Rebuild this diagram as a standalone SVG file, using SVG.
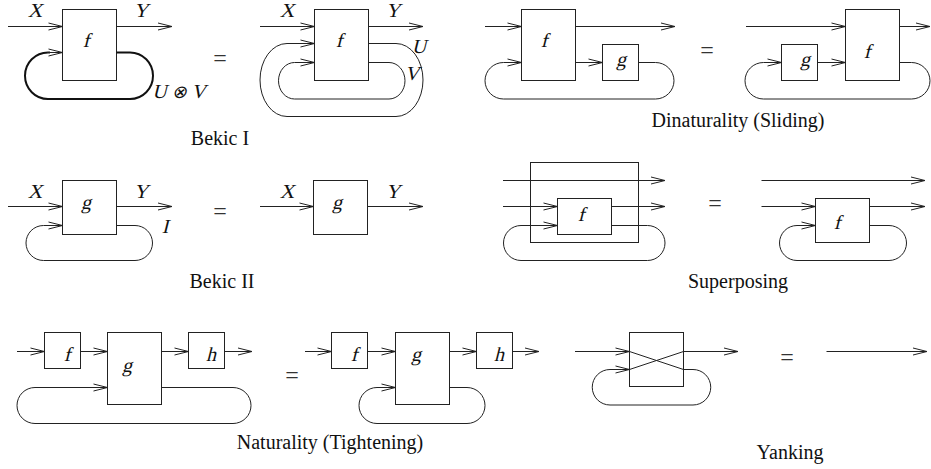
<svg xmlns="http://www.w3.org/2000/svg" width="931" height="469" viewBox="0 0 931 469">
<style>
.b{fill:none;stroke:#222;stroke-width:1}
.w{fill:none;stroke:#222;stroke-width:1}
.thick{fill:none;stroke:#111;stroke-width:2}
.m{font-family:"Liberation Serif","DejaVu Serif",serif;font-size:20px;fill:#111;text-anchor:middle}
.c{font-family:"Liberation Serif",serif;font-size:20px;fill:#111;text-anchor:middle}
.eq{font-family:"Liberation Serif",serif;font-size:24px;fill:#333;text-anchor:middle}
.op{font-family:"DejaVu Sans",sans-serif;font-size:18px}
</style>
<defs>
<marker id="a" markerWidth="16" markerHeight="10" refX="15" refY="5" orient="auto" markerUnits="userSpaceOnUse">
<path d="M1,1.5 L15,5 L1,8.5" fill="none" stroke="#222" stroke-width="1"/>
</marker>
</defs>
<rect width="931" height="469" fill="#fff"/>

<!-- Nodes -->
<g id="bekic1-left-f"><rect class="b" x="62.5" y="9.5" width="54" height="71"/><text class="m" transform="translate(86,47) skewX(-14)">f</text></g>
<g id="bekic1-right-f"><rect class="b" x="314.5" y="9.5" width="54" height="71"/><text class="m" transform="translate(339,47) skewX(-14)">f</text></g>
<g id="slide-left-f"><rect class="b" x="521.5" y="9.5" width="54" height="71"/><text class="m" transform="translate(544,47) skewX(-14)">f</text></g>
<g id="slide-left-g"><rect class="b" x="602.5" y="44.5" width="36" height="36"/><text class="m" transform="translate(621,66) skewX(-14)">g</text></g>
<g id="slide-right-g"><rect class="b" x="781.5" y="44.5" width="36" height="36"/><text class="m" transform="translate(805,66) skewX(-14)">g</text></g>
<g id="slide-right-f"><rect class="b" x="845.5" y="9.5" width="54" height="71"/><text class="m" transform="translate(867,58) skewX(-14)">f</text></g>

<g id="bekic2-left-g"><rect class="b" x="62.5" y="180.5" width="54" height="54"/><text class="m" transform="translate(86,209) skewX(-14)">g</text></g>
<g id="bekic2-right-g"><rect class="b" x="313.5" y="180.5" width="54" height="54"/><text class="m" transform="translate(337,209) skewX(-14)">g</text></g>
<g id="super-left-box"><rect class="b" x="530.5" y="162.5" width="108" height="80"/></g>
<g id="super-left-f"><rect class="b" x="557.5" y="198.5" width="54" height="36"/><text class="m" transform="translate(581,221) skewX(-14)">f</text></g>
<g id="super-right-f"><rect class="b" x="815.5" y="198.5" width="54" height="44"/><text class="m" transform="translate(837,229) skewX(-14)">f</text></g>

<g id="nat-left-f"><rect class="b" x="44.5" y="332.5" width="36" height="36"/><text class="m" transform="translate(67,361) skewX(-14)">f</text></g>
<g id="nat-left-g"><rect class="b" x="107.5" y="332.5" width="54" height="72"/><text class="m" transform="translate(127,372) skewX(-14)">g</text></g>
<g id="nat-left-h"><rect class="b" x="188.5" y="332.5" width="36" height="36"/><text class="m" transform="translate(211,361) skewX(-14)">h</text></g>
<g id="nat-right-f"><rect class="b" x="331.5" y="332.5" width="36" height="36"/><text class="m" transform="translate(354,361) skewX(-14)">f</text></g>
<g id="nat-right-g"><rect class="b" x="395.5" y="332.5" width="54" height="72"/><text class="m" transform="translate(416,361) skewX(-14)">g</text></g>
<g id="nat-right-h"><rect class="b" x="476.5" y="332.5" width="36" height="36"/><text class="m" transform="translate(499,361) skewX(-14)">h</text></g>
<g id="yank-box"><rect class="b" x="629.5" y="332.5" width="54" height="54"/></g>

<!-- Connectors -->
<g id="connectors">
<path class="w" d="M8,26.5 H62.5" marker-end="url(#a)"/>
<path class="w" d="M116.5,26.5 H172" marker-end="url(#a)"/>
<path class="thick" d="M116.5,52.5 H130 A23,23.25 0 0 1 130,99 H48 A23,23.25 0 0 1 48,52.5 H50"/>
<path class="w" d="M47,52.5 H62.5" marker-end="url(#a)"/>
<path class="w" d="M260,26.5 H314.5" marker-end="url(#a)"/>
<path class="w" d="M368.5,26.5 H423" marker-end="url(#a)"/>
<path class="w" d="M368.5,43.5 H396 A27,36.5 0 0 1 396,116.5 H287 A27,36.5 0 0 1 287,43.5 H314.5" marker-end="url(#a)"/>
<path class="w" d="M368.5,62.5 H389 A16,18.25 0 0 1 389,99 H294.5 A16,18.25 0 0 1 294.5,62.5 H314.5" marker-end="url(#a)"/>
<path class="w" d="M485,26.5 H521.5" marker-end="url(#a)"/>
<path class="w" d="M575.5,26.5 H675" marker-end="url(#a)"/>
<path class="w" d="M575.5,62.5 H602.5" marker-end="url(#a)"/>
<path class="w" d="M638.5,62.5 H655.5 A18.5,18.25 0 0 1 655.5,99 H503.5 A18.5,18.25 0 0 1 503.5,62.5 H521.5" marker-end="url(#a)"/>
<path class="w" d="M746,26.5 H845.5" marker-end="url(#a)"/>
<path class="w" d="M899.5,26.5 H930" marker-end="url(#a)"/>
<path class="w" d="M817.5,62.5 H845.5" marker-end="url(#a)"/>
<path class="w" d="M899.5,62.5 H911.5 A18.5,18.25 0 0 1 911.5,99 H763.5 A18.5,18.25 0 0 1 763.5,62.5 H781.5" marker-end="url(#a)"/>
<path class="w" d="M8,206.5 H62.5" marker-end="url(#a)"/>
<path class="w" d="M116.5,206.5 H172" marker-end="url(#a)"/>
<path class="w" d="M116.5,225.5 H135 A17.5,17.5 0 0 1 135,260.5 H43.5 A17.5,17.5 0 0 1 43.5,225.5 H62.5" marker-end="url(#a)"/>
<path class="w" d="M260,206.5 H313.5" marker-end="url(#a)"/>
<path class="w" d="M367.5,206.5 H423" marker-end="url(#a)"/>
<path class="w" d="M503,180.5 H665" marker-end="url(#a)"/>
<path class="w" d="M503,206.5 H557.5" marker-end="url(#a)"/>
<path class="w" d="M611.5,206.5 H665" marker-end="url(#a)"/>
<path class="w" d="M611.5,225.5 H647.5 A17.5,17.5 0 0 1 647.5,260.5 H521 A17.5,17.5 0 0 1 521,225.5 H557.5" marker-end="url(#a)"/>
<path class="w" d="M761.5,180.5 H925" marker-end="url(#a)"/>
<path class="w" d="M761.5,206.5 H815.5" marker-end="url(#a)"/>
<path class="w" d="M869.5,206.5 H925" marker-end="url(#a)"/>
<path class="w" d="M869.5,225.5 H889 A17.5,17.5 0 0 1 889,260.5 H797 A17.5,17.5 0 0 1 797,225.5 H815.5" marker-end="url(#a)"/>
<path class="w" d="M17,351.5 H44.5" marker-end="url(#a)"/>
<path class="w" d="M80.5,351.5 H107.5" marker-end="url(#a)"/>
<path class="w" d="M161.5,351.5 H188.5" marker-end="url(#a)"/>
<path class="w" d="M224.5,351.5 H252" marker-end="url(#a)"/>
<path class="w" d="M161.5,387.5 H233 A18,18 0 0 1 233,423.5 H35 A18,18 0 0 1 35,387.5 H107.5" marker-end="url(#a)"/>
<path class="w" d="M305,351.5 H331.5" marker-end="url(#a)"/>
<path class="w" d="M367.5,351.5 H395.5" marker-end="url(#a)"/>
<path class="w" d="M449.5,351.5 H476.5" marker-end="url(#a)"/>
<path class="w" d="M512.5,351.5 H539" marker-end="url(#a)"/>
<path class="w" d="M449.5,387.5 H467 A18,18 0 0 1 467,423.5 H377 A18,18 0 0 1 377,387.5 H395.5" marker-end="url(#a)"/>
<path class="w" d="M575,351.5 H629.5" marker-end="url(#a)"/>
<path class="w" d="M629.5,351.5 L683.5,369.5 M629.5,369.5 L683.5,351.5"/>
<path class="w" d="M683.5,351.5 H738" marker-end="url(#a)"/>
<path class="w" d="M683.5,369.5 H693 A17.75,17.75 0 0 1 693,405 H610 A17.75,17.75 0 0 1 610,369.5 H629.5" marker-end="url(#a)"/>
<path class="w" d="M826.5,351.5 H927" marker-end="url(#a)"/>
</g>

<g id="labels">
<text class="m" transform="translate(35,17) skewX(-14)">X</text>
<text class="m" transform="translate(141,17) skewX(-14)">Y</text>
<text class="m" transform="translate(179,98) skewX(-14)">U <tspan class="op">⊗</tspan> V</text>
<text class="m" transform="translate(287,17) skewX(-14)">X</text>
<text class="m" transform="translate(393,17) skewX(-14)">Y</text>
<text class="m" transform="translate(419,53) skewX(-14)">U</text>
<text class="m" transform="translate(412,80) skewX(-14)">V</text>
<text class="m" transform="translate(35,198) skewX(-14)">X</text>
<text class="m" transform="translate(141,198) skewX(-14)">Y</text>
<text class="m" transform="translate(165,233) skewX(-14)">I</text>
<text class="m" transform="translate(287,198) skewX(-14)">X</text>
<text class="m" transform="translate(393,198) skewX(-14)">Y</text>
</g>

<g id="equals">
<text class="eq" x="220" y="66">=</text>
<text class="eq" x="707" y="58">=</text>
<text class="eq" x="220" y="219">=</text>
<text class="eq" x="715" y="211">=</text>
<text class="eq" x="292" y="383">=</text>
<text class="eq" x="787" y="365">=</text>
</g>

<g id="captions">
<text class="c" x="220" y="145">Bekic I</text>
<text class="c" x="738" y="127">Dinaturality (Sliding)</text>
<text class="c" x="222" y="288">Bekic II</text>
<text class="c" x="738" y="288">Superposing</text>
<text class="c" x="330" y="449">Naturality (Tightening)</text>
<text class="c" x="790" y="459">Yanking</text>
</g>
</svg>
